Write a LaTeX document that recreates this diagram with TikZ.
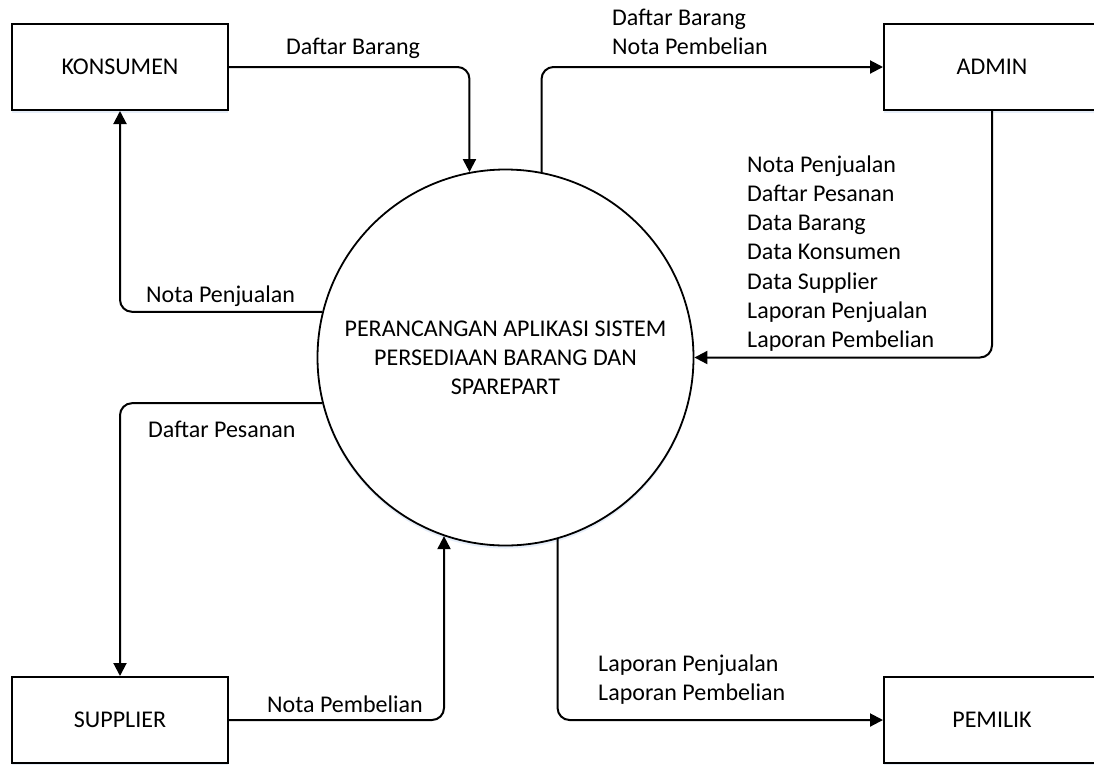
\documentclass[tikz,border=0pt]{standalone}
\usepackage{fontspec}
\setmainfont{Carlito}
\usetikzlibrary{arrows.meta,shadows}
\begin{document}
\begin{tikzpicture}[x=1pt,y=-1pt,
  font=\fontsize{24pt}{29.2pt}\selectfont,
  shadowed/.style={drop shadow={shadow xshift=0pt, shadow yshift=-3pt, fill={rgb,255:red,214;green,227;blue,245}, opacity=0.6}},
  entity/.style={draw, line width=2pt, minimum width=216pt, minimum height=86pt, inner sep=0pt, fill=white, shadowed},
  process/.style={circle, draw, line width=1.8pt, minimum size=376pt, inner sep=0pt, fill=white, align=center, shadowed},
  flow/.style={line width=2pt, rounded corners=12pt, -{Triangle[length=13pt,width=13pt]}},
  lbl/.style={anchor=base west, inner sep=0pt, align=left}
]
\useasboundingbox (0,0) rectangle (1094,764);
\clip (0,0) rectangle (1094,764);

\node[entity] (K) at (120,67) {KONSUMEN};
\node[entity] (A) at (992,67) {ADMIN};
\node[entity] (S) at (120,720) {SUPPLIER};
\node[entity] (P) at (992,720) {PEMILIK};
\node[process] (C) at (505.5,357.5) {\rule{0pt}{2.5pt}PERANCANGAN APLIKASI SISTEM\\PERSEDIAAN BARANG DAN\\SPAREPART};

\draw[flow] (K.east) -| (C.101.2);
\draw[flow] (C.79.1) |- (A.west);
\draw[flow] (A.south) |- (C.east);
\draw[flow] (C.166.9) -| (K.south);
\draw[flow] (C.194) -| (S.north);
\draw[flow] (S.east) -| (C.251.9);
\draw[flow] (C.286.2) |- (P.west);

\node[lbl] (l1) at (286,54.5) {Daftar Barang};
\node[lbl] (l2) at (612,54.5) {Daftar Barang\\Nota Pembelian};
\node[lbl] (l3) at (747,347.5) {Nota Penjualan\\Daftar Pesanan\\Data Barang\\Data Konsumen\\Data Supplier\\Laporan Penjualan\\Laporan Pembelian};
\node[lbl] (l4) at (146,302.5) {Nota Penjualan};
\node[lbl] (l5) at (148,437.5) {Daftar Pesanan};
\node[lbl] (l6) at (267,712.5) {Nota Pembelian};
\node[lbl] (l7) at (598,700.5) {Laporan Penjualan\\Laporan Pembelian};
\end{tikzpicture}
\end{document}
